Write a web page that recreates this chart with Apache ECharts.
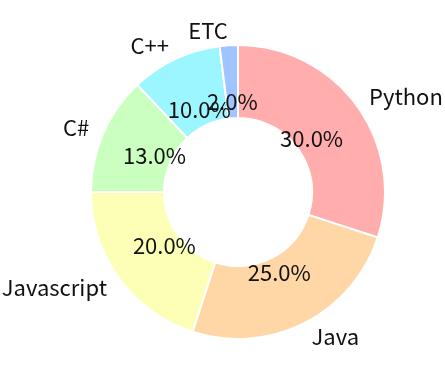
<!DOCTYPE html>
<html>
<head>
<meta charset="utf-8">
<script src="https://cdn.jsdelivr.net/npm/echarts@6/dist/echarts.min.js"></script>
<style>
html,body{margin:0;padding:0;background:#fff;}
#chart{width:445px;height:389px;}
</style>
</head>
<body>
<div id="chart"></div>
<script>
const categories = ['Python', 'Java', 'Javascript', 'C#', 'C++', 'ETC'];
const values = [30, 25, 20, 13, 10, 2];
const palette = ['#ffadad', '#ffd6a5', '#fdffb6', '#caffbf', '#9bf6ff', '#a0c4ff'];

const FONT = 'Noto Sans CJK KR';
const FS = 22;

const ringData = categories.map((c, i) => ({ name: c, value: values[i], itemStyle: { color: palette[i] } }));
const pctData = categories.map((c, i) => ({ name: c, value: values[i] }));

const chart = echarts.init(document.getElementById('chart'), null, { renderer: 'canvas' });
chart.setOption({
  animation: false,
  backgroundColor: '#fff',
  series: [
    {
      type: 'pie',
      center: [238, 192],
      radius: [74, 147],
      startAngle: 90,
      clockwise: true,
      avoidLabelOverlap: false,
      minShowLabelAngle: 0,
      silent: true,
      data: ringData,
      itemStyle: { borderColor: '#fff', borderWidth: 2 },
      label: {
        show: true,
        position: 'outside',
        formatter: '{b}',
        fontFamily: FONT,
        fontSize: FS,
        color: '#111',
        distanceToLabelLine: 0
      },
      labelLine: { show: false, length: 15, length2: 0 },
      labelLayout: { hideOverlap: false }
    },
    {
      type: 'pie',
      center: [238, 192],
      radius: [0, 176],
      startAngle: 90,
      clockwise: true,
      avoidLabelOverlap: false,
      minShowLabelAngle: 0,
      silent: true,
      z: 5,
      data: pctData,
      itemStyle: { color: 'rgba(0,0,0,0)', borderWidth: 0 },
      label: {
        show: true,
        position: 'inside',
        overflow: 'none',
        formatter: p => p.percent.toFixed(1) + '%',
        fontFamily: FONT,
        fontSize: FS,
        color: '#111',
        textBorderWidth: 0
      },
      labelLine: { show: false },
      labelLayout: { hideOverlap: false }
    }
  ]
});
</script>
</body>
</html>
